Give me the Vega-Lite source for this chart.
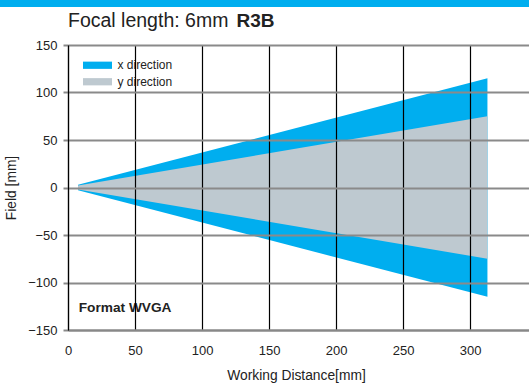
{
  "$schema": "https://vega.github.io/schema/vega-lite/v6.json",
  "autosize": "none",
  "width": 461,
  "height": 285,
  "padding": {"left": 68, "top": 45, "right": 0, "bottom": 59},
  "background": "white",
  "config": {
    "font": "Liberation Sans",
    "view": {"stroke": null},
    "axis": {"labelFont": "Liberation Sans", "titleFont": "Liberation Sans", "labelColor": "#222", "titleColor": "#222", "labelFontSize": 13, "titleFontSize": 13.8, "titleFontWeight": "normal"}
  },
  "datasets": {
    "field": [
      {"distance": 7.5, "direction": "x direction", "lo": -3, "hi": 3},
      {"distance": 313, "direction": "x direction", "lo": -115, "hi": 115},
      {"distance": 7.5, "direction": "y direction", "lo": -2, "hi": 2},
      {"distance": 313, "direction": "y direction", "lo": -75, "hi": 75}
    ],
    "labels": [
      {"distance": 8, "field": -127, "text": "Format WVGA", "kind": "format"},
      {"distance": 0, "field": 169, "text": "Focal length: 6mm", "kind": "title"},
      {"distance": 125.8, "field": 169, "text": "R3B", "kind": "lens"}
    ]
  },
  "layer": [
    {
      "data": {"values": [{}]},
      "mark": {"type": "rect", "color": "#00AEEF", "clip": false},
      "encoding": {
        "x": {"datum": -60, "type": "quantitative"},
        "x2": {"datum": 350},
        "y": {"datum": 190, "type": "quantitative"},
        "y2": {"datum": 205}
      }
    },
    {
      "data": {"name": "field"},
      "mark": {"type": "area", "opacity": 1},
      "encoding": {
        "x": {"field": "distance", "type": "quantitative", "scale": {"domain": [0, 344], "nice": false},
          "axis": {"values": [0, 50, 100, 150, 200, 250, 300], "title": "Working Distance[mm]", "grid": true, "gridColor": "#000", "gridWidth": 1.2, "gridOpacity": 1, "ticks": false, "domain": true, "domainColor": "#888", "domainWidth": 2, "labelPadding": 14, "labelFlush": false, "titlePadding": 11, "titleX": 228, "zindex": 1}},
        "y": {"field": "lo", "type": "quantitative", "scale": {"domain": [-150, 150], "nice": false},
          "axis": {"values": [-150, -100, -50, 0, 50, 100, 150], "title": "Field [mm]", "grid": true, "gridColor": "#8a8a8a", "gridWidth": 2, "gridOpacity": 1, "ticks": true, "tickColor": "#8a8a8a", "tickWidth": 2, "tickSize": 5, "domain": true, "domainColor": "#000", "domainWidth": 1.2, "labelPadding": 6, "labelFlush": false, "titlePadding": 9, "zindex": 1}},
        "y2": {"field": "hi"},
        "color": {"field": "direction", "type": "nominal",
          "scale": {"domain": ["x direction", "y direction"], "range": ["#00AEEF", "#BEC9D0"]},
          "legend": {"title": null, "orient": "none", "legendX": 22, "legendY": 12.75, "symbolType": "M-2,-0.5H2V0.5H-2Z", "symbolSize": 210, "symbolStrokeWidth": 0, "symbolOpacity": 1, "labelFontSize": 12, "labelFont": "Liberation Sans", "labelColor": "#222", "labelOffset": 12.5, "rowPadding": 2.5, "padding": 0}},
        "order": {"field": "direction"}
      }
    },
    {
      "data": {"name": "labels"},
      "transform": [{"filter": "datum.kind === 'format'"}],
      "mark": {"type": "text", "align": "left", "baseline": "middle", "fontSize": 13.7, "fontWeight": "bold", "font": "Liberation Sans", "color": "#222"},
      "encoding": {
        "x": {"field": "distance", "type": "quantitative"},
        "y": {"field": "field", "type": "quantitative"},
        "text": {"field": "text"}
      }
    },
    {
      "data": {"name": "labels"},
      "transform": [{"filter": "datum.kind === 'title'"}],
      "mark": {"type": "text", "align": "left", "baseline": "alphabetic", "fontSize": 19.5, "fontWeight": "normal", "font": "Liberation Sans", "color": "#222"},
      "encoding": {
        "x": {"field": "distance", "type": "quantitative"},
        "y": {"field": "field", "type": "quantitative"},
        "text": {"field": "text"}
      }
    },
    {
      "data": {"name": "labels"},
      "transform": [{"filter": "datum.kind === 'lens'"}],
      "mark": {"type": "text", "align": "left", "baseline": "alphabetic", "fontSize": 19, "fontWeight": "bold", "font": "Liberation Sans", "color": "#222"},
      "encoding": {
        "x": {"field": "distance", "type": "quantitative"},
        "y": {"field": "field", "type": "quantitative"},
        "text": {"field": "text"}
      }
    }
  ]
}
